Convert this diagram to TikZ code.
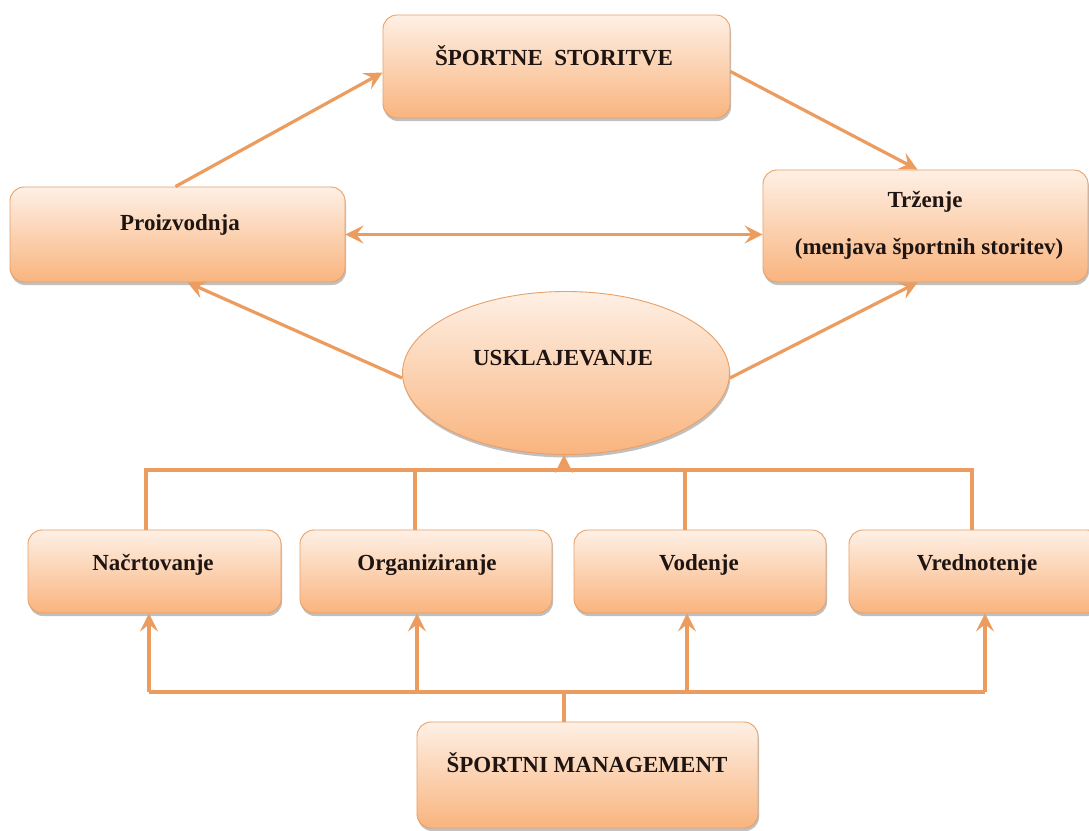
\documentclass[tikz,border=0pt]{standalone}
\usepackage{fontspec}
\setmainfont{Liberation Serif}
\usetikzlibrary{arrows.meta,shadows,shapes.geometric}
\definecolor{boxtop}{HTML}{FEF0E5}
\definecolor{boxbot}{HTML}{F9B47E}
\definecolor{boxline}{HTML}{E8A068}
\definecolor{connc}{HTML}{EC9C5E}
\definecolor{txtc}{HTML}{1E1412}
\begin{document}
\begin{tikzpicture}[x=1pt,y=-1pt,
  box/.style={draw=boxline, line width=0.9pt, rounded corners=14pt,
    top color=boxtop, bottom color=boxbot, inner sep=0pt,
    drop shadow={shadow xshift=1pt, shadow yshift=-3pt, opacity=0.35, fill=black!70}},
  ellbox/.style={draw=boxline, line width=0.9pt, ellipse, inner sep=0pt,
    top color=boxtop, bottom color=boxbot,
    drop shadow={shadow xshift=1pt, shadow yshift=-3pt, opacity=0.35, fill=black!70}},
  lbl/.style={font=\fontsize{23}{27}\selectfont\bfseries, text=txtc, inner sep=0pt,
    text height=15pt, text depth=0pt},
  conn/.style={draw=connc, line width=3.2pt},
  tip/.tip={Stealth[length=18pt,width=18pt,inset=7pt]},
  arr/.style={conn, -tip},
  darr/.style={conn, tip-tip},
]
\useasboundingbox[fill=white] (0,0) rectangle (1089,830);

% boxes
\node[box, minimum width=347pt, minimum height=103pt] (sport) at (556.5,66.5) {};
\node[box, minimum width=335pt, minimum height=95pt] (proiz) at (177.5,234.5) {};
\node[box, minimum width=325pt, minimum height=112pt] (trz) at (925.5,226) {};
\node[ellbox, minimum width=327pt, minimum height=163pt] (ell) at (566,373) {};
\node[box, minimum width=253pt, minimum height=83pt] (b1) at (154.5,571.5) {};
\node[box, minimum width=252pt, minimum height=83pt] (b2) at (426,571.5) {};
\node[box, minimum width=252pt, minimum height=83pt] (b3) at (700,571.5) {};
\node[box, minimum width=252pt, minimum height=83pt] (b4) at (975,571.5) {};
\node[box, minimum width=341pt, minimum height=106pt] (mgmt) at (587.5,775) {};

% texts
\node[lbl] (tsport) at (554,58) {ŠPORTNE\ \ STORITVE};
\node[lbl] (tproiz) at (180,223) {Proizvodnja};
\node[lbl] (ttrz1) at (925,200) {Trženje};
\node[lbl] (ttrz2) at (929,247) {(menjava športnih storitev)};
\node[lbl] (tell) at (563,358) {USKLAJEVANJE};
\node[lbl] (tb1) at (153,563) {Načrtovanje};
\node[lbl] (tb2) at (427,563) {Organiziranje};
\node[lbl] (tb3) at (699,563) {Vodenje};
\node[lbl] (tb4) at (977,563) {Vrednotenje};
\node[lbl] (tmgmt) at (587,765) {ŠPORTNI MANAGEMENT};

% upper connectors
\draw[arr] ([xshift=-2pt]proiz.north) -- ([yshift=-6pt]sport.west);
\draw[arr] ([yshift=-5pt]sport.east) -- ([xshift=-8pt]trz.north);
\draw[darr] (proiz.east) -- (trz.west |- proiz.east);
\draw[arr] ([yshift=-5pt]ell.west) -- ([xshift=10pt]proiz.south);
\draw[arr] ([yshift=-5pt]ell.east) -- ([xshift=-8pt]trz.south);

% upper bus
\coordinate (u1) at (146,470);
\coordinate (u2) at (415,470);
\coordinate (u3) at (685,470);
\coordinate (u4) at (972,470);
\coordinate (ue) at (564,470);
\draw[conn] (u1 |- b1.north) -- (u1) -- (u4) -- (u4 |- b4.north);
\draw[conn] (u2) -- (u2 |- b2.north);
\draw[conn] (u3) -- (u3 |- b3.north);
\draw[arr] (ue) -- (ue |- ell.south);

% lower bus
\coordinate (l1) at (149,692);
\coordinate (l2) at (417,692);
\coordinate (l3) at (687,692);
\coordinate (l4) at (985,692);
\coordinate (lm) at (564,692);
\draw[conn] (l1) -- (l4);
\draw[conn] (lm |- mgmt.north) -- (lm);
\draw[arr] (l1) -- (l1 |- b1.south);
\draw[arr] (l2) -- (l2 |- b2.south);
\draw[arr] (l3) -- (l3 |- b3.south);
\draw[arr] (l4) -- (l4 |- b4.south);
\end{tikzpicture}
\end{document}
